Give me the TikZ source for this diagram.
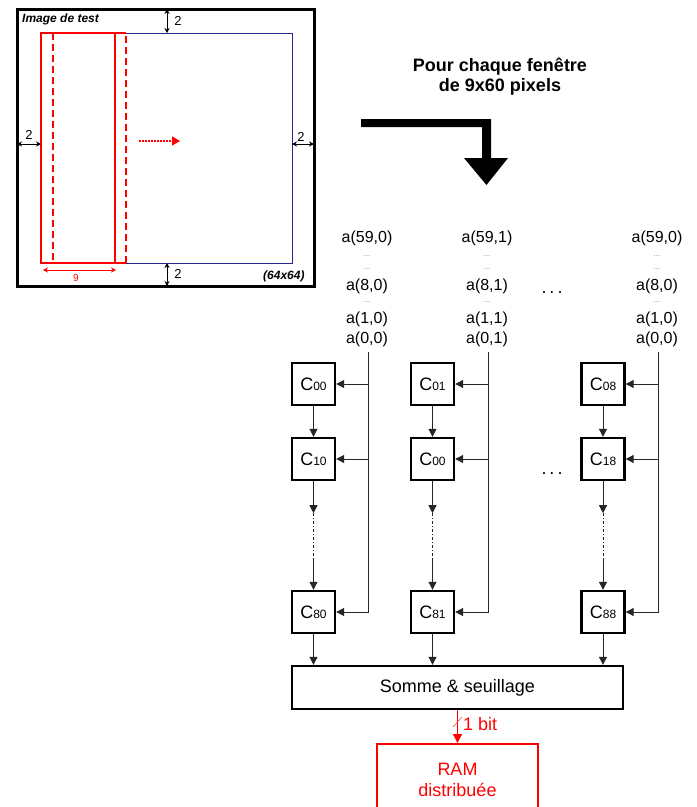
\documentclass[tikz,border=0pt]{standalone}
\usepackage{fontspec}
\setmainfont{Liberation Sans}
\usetikzlibrary{arrows.meta,calc}
\definecolor{navyb}{RGB}{40,40,140}
\tikzset{
  cbox/.style={draw=black, line width=2.4pt, minimum width=43pt, minimum height=42pt, inner sep=0pt, fill=white},
  conn/.style={draw=black!85, line width=1pt},
  arr/.style={conn, -{Triangle[length=8pt,width=8pt]}},
  dimarr/.style={line width=0.8pt, {Stealth[length=5pt,width=5pt]}-{Stealth[length=5pt,width=5pt]}},
  atext/.style={inner sep=0pt, font=\fontsize{16}{16}\selectfont},
  tinydots/.style={inner sep=0pt, text=black!45, font=\fontsize{8}{8}\selectfont},
  dimtext/.style={inner sep=0pt, font=\fontsize{13}{13}\selectfont},
}
\newcommand{\cl}[1]{{\fontsize{18}{18}\selectfont C}{\fontsize{12}{12}\selectfont #1}}
\begin{document}
\begin{tikzpicture}[x=1pt,y=-1pt]
\clip (0,0) rectangle (697,807);
\fill[white] (0,0) rectangle (697,807);

% ---------- test image ----------
\draw[navyb, line width=1pt] (41,33) rectangle (292,263);
\draw[red, line width=2pt] (41,33) rectangle (115,263);
\draw[red, line width=2pt, dash pattern=on 7pt off 4pt] (53,33) -- (53,263);
\draw[red, line width=2pt, dash pattern=on 7pt off 4pt] (126,263) -- (126,33);
\draw[red, line width=2pt] (115,33) -- (126,33) (115,263) -- (126,263);
\draw[line width=3pt] (17,9) rectangle (314,286);
\node[anchor=base west, inner sep=0pt, font=\fontsize{12}{12}\selectfont\bfseries\itshape] (imgt) at (22,22) {Image de test};
\node[anchor=base west, inner sep=0pt, font=\fontsize{12}{12}\selectfont\bfseries\itshape] (size) at (263,279) {(64x64)};
\draw[red, line width=1.2pt, dash pattern=on 1.5pt off 1.5pt, -{Triangle[length=8pt,width=9pt]}] (139,141) -- (180,141);
% dimensions
\draw[dimarr] (17,144) -- (41,144);
\node[dimtext] (d1) at (29,135) {2};
\draw[dimarr] (292,144) -- (314,144);
\node[dimtext] (d2) at (301,137) {2};
\draw[dimarr] (167,9) -- (167,33);
\node[dimtext] (d3) at (178,21) {2};
\draw[dimarr] (167,263) -- (167,286);
\node[dimtext] (d4) at (178,274) {2};
\draw[dimarr, red] (43,270) -- (116,270);
\node[inner sep=0pt, text=red, font=\fontsize{10}{10}\selectfont] (d9) at (76,278) {9};

% ---------- title and bent arrow ----------
\node[align=center, inner sep=0pt, font=\fontsize{18}{20}\selectfont\bfseries] (title) at (500,77) {Pour chaque fenêtre\\de 9x60 pixels};
\fill (361,119) -- (491,119) -- (491,158) -- (508,158) -- (486.5,185) -- (464,158) -- (482,158) -- (482,127) -- (361,127) -- cycle;

% ---------- input columns ----------
\foreach \n/\x/\i/\j in {A/367/0/0, B/487/1/1, C/657/0/0} {
  \node[atext] (\n59) at (\x,238) {a(59,\i)};
  \node[tinydots] (\n d1) at (\x,256) {...};
  \node[tinydots] (\n d2) at (\x,269) {...};
  \node[atext] (\n8) at (\x,286) {a(8,\i)};
  \node[tinydots] (\n d3) at (\x,302) {...};
  \node[atext] (\n1) at (\x,319) {a(1,\i)};
  \node[atext] (\n0) at (\x,339) {a(0,\j)};
}
\node[inner sep=0pt, font=\fontsize{18}{18}\selectfont] (dotsA) at (552,293) {.\,.\,.};
\node[inner sep=0pt, font=\fontsize{18}{18}\selectfont] (dotsB) at (552,474) {.\,.\,.};

% ---------- cell boxes ----------
\node[cbox] (c00) at (313.5,384) {\cl{00}};
\node[cbox] (c10) at (313.5,459) {\cl{10}};
\node[cbox] (c80) at (313.5,612) {\cl{80}};
\node[cbox] (c01) at (432.5,384) {\cl{01}};
\node[cbox] (c11) at (432.5,459) {\cl{00}};
\node[cbox] (c81) at (432.5,612) {\cl{81}};
\node[cbox] (c08) at (603,384) {\cl{08}};
\node[cbox] (c18) at (603,459) {\cl{18}};
\node[cbox] (c88) at (603,612) {\cl{88}};

\node[draw=black, line width=2.4pt, minimum width=331pt, minimum height=43pt, inner sep=0pt, font=\fontsize{18}{18}\selectfont] (somme) at (457.5,687.5) {Somme \& seuillage};
\node[draw=red, line width=2.4pt, minimum width=161pt, minimum height=72pt, anchor=north, inner sep=0pt, align=center, text=red, font=\fontsize{18}{21}\selectfont] (ram) at (457.5,743) {RAM\\distribuée};

% ---------- connectors ----------
\foreach \top/\lx/\a/\b/\c in {A0/368/c00/c10/c80, B0/488/c01/c11/c81, C0/658/c08/c18/c88} {
  \coordinate (\top t) at (\lx,352);
  \draw[arr] (\top t) |- (\c.east);
  \draw[arr] (\top t |- \a.east) -- (\a.east);
  \draw[arr] (\top t |- \b.east) -- (\b.east);
  \draw[arr] (\a.south) -- (\b.north);
  \coordinate (\top m1) at ($(\b.south)+(0,32)$);
  \coordinate (\top m2) at ($(\b.south)+(0,78)$);
  \draw[arr] (\b.south) -- (\top m1);
  \draw[conn, dash dot] (\top m1) -- (\top m2);
  \draw[arr] (\top m2) -- (\c.north);
  \draw[arr] (\c.south) -- (\c.south |- somme.north);
}
\draw[red, line width=1.3pt, -{Triangle[length=9pt,width=9pt]}] (somme.south) -- (ram.north);
\coordinate (s1) at (453,727);
\coordinate (s2) at (462,717);
\draw[red!70, line width=0.6pt] (s1) -- (s2);
\node[anchor=west, inner sep=0pt, text=red, font=\fontsize{18}{18}\selectfont] (bit) at (463,724) {1 bit};
\end{tikzpicture}
\end{document}
